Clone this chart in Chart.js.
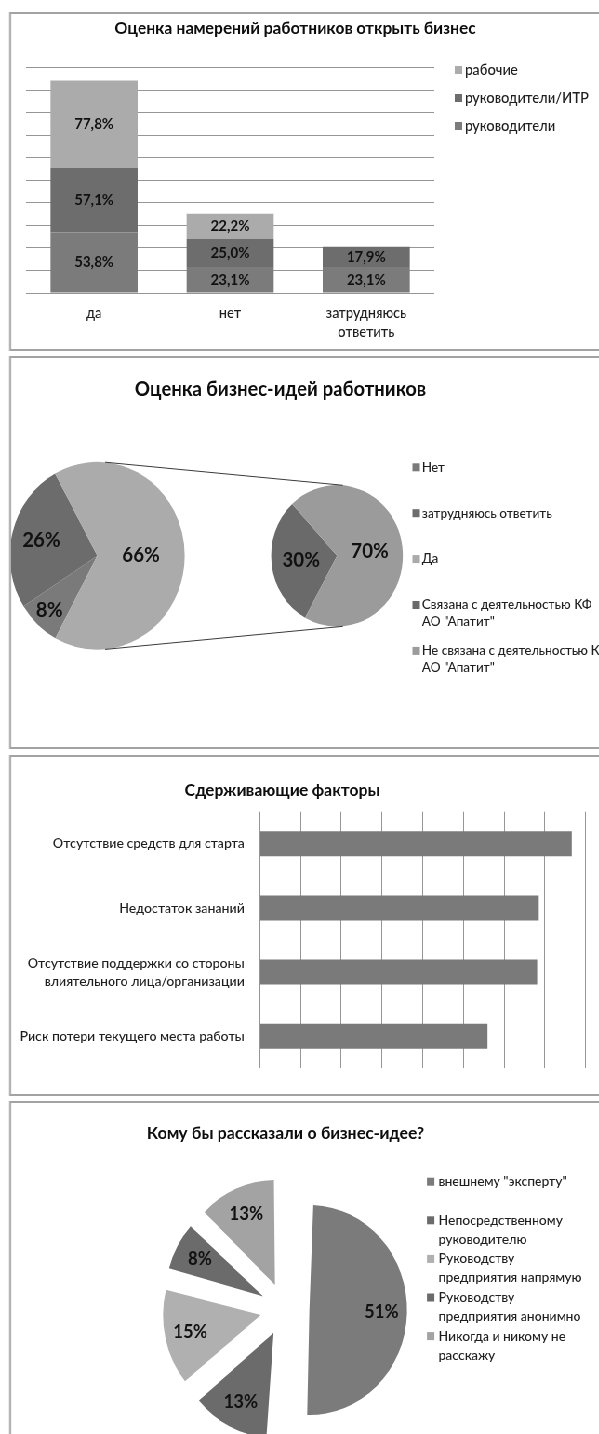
<!DOCTYPE html>
<html lang="ru">
<head>
<meta charset="utf-8">
<title>Бизнес-идеи работников</title>
<script src="https://cdn.jsdelivr.net/npm/chart.js@4.4.1/dist/chart.umd.min.js"></script>
<style>
  html, body { margin: 0; padding: 0; background: #fff; overflow: hidden; }
  body { width: 599px; height: 1434px; position: relative; }
  /* the scanned original is squeezed horizontally, so is the page */
  #page { position: absolute; left: 0; top: 0; width: 644px; height: 1434px;
          transform: scaleX(0.93); transform-origin: 0 0; }
  .panel { position: absolute; left: 10px; width: 660px; box-sizing: border-box;
           border: 2px solid #a3a3a3; background: #fff; }
  .panel canvas { position: absolute; left: 0; top: 0; }
</style>
</head>
<body>
<div id="page">
  <div class="panel" style="top:12px;height:339px">
    <canvas id="intentChart" width="646" height="335"></canvas>
  </div>
  <div class="panel" style="top:356px;height:393px">
    <canvas id="ideaChart" width="646" height="389"></canvas>
    <canvas id="ideaLinkChart" width="646" height="389"></canvas>
  </div>
  <div class="panel" style="top:755px;height:341px">
    <canvas id="barrierChart" width="646" height="337"></canvas>
  </div>
  <div class="panel" style="top:1101px;height:400px">
    <canvas id="tellChart" width="646" height="396"></canvas>
  </div>
</div>
<script>
// Оценка намерений работников открыть бизнес
const intentCategories = ['да', 'нет', ['затрудняюсь', 'ответить']];
const intentSeries = ['руководители', 'руководители/ИТР', 'рабочие'];
const intentManagers = [53.8, 23.1, 23.1];
const intentManagersItr = [57.1, 25.0, 17.9];
const intentWorkers = [77.8, 22.2, null];

// Оценка бизнес-идей работников
const ideaLabels = ['Нет', 'затрудняюсь ответить', 'Да'];
const ideaValues = [8, 26, 66];
const ideaLinkLabels = [['Связана с деятельностью КФ', 'АО "Апатит"'], ['Не связана с деятельностью КФ', 'АО "Апатит"']];
const ideaLinkValues = [30, 70];

// Сдерживающие факторы
const barrierLabels = [
  'Отсутствие средств для старта',
  'Недостаток зананий',
  ['Отсутствие поддержки со стороны', 'влиятельного лица/организации'],
  'Риск потери текущего места работы'
];
const barrierValues = [76.6, 68.5, 68.1, 55.9];

// Кому бы рассказали о бизнес-идее?
const tellLabels = [
  'внешнему "эксперту"',
  ['Непосредственному', 'руководителю'],
  ['Руководству', 'предприятия напрямую'],
  ['Руководству', 'предприятия анонимно'],
  ['Никогда и никому не', 'расскажу']
];
const tellValues = [51, 13, 15, 8, 13];

const FONT = 'Lato, "Open Sans", sans-serif';
Chart.defaults.font.family = FONT;
Chart.defaults.font.weight = 500;
Chart.defaults.color = '#1f1f1f';

function pct1(v) { return v.toFixed(1).replace('.', ',') + '%'; }
function pct0(v) { return v + '%'; }

// v4 arcs move by offset/4 and also grow a bit; work out both
function arcShift(el) {
  const shift = (el.options.offset || 0) / 4;
  const fix = 1 - Math.sin(Math.min(Math.PI, el.circumference || 0));
  return { shift: shift, grow: shift * fix };
}

// title and legend placed the way Excel had them
function decor(cfg) {
  return {
    id: 'decor',
    afterDraw(chart) {
      const ctx = chart.ctx;
      ctx.save();
      ctx.textBaseline = 'middle';
      if (cfg.title) {
        ctx.font = 'bold ' + cfg.title.size + 'px ' + FONT;
        ctx.fillStyle = '#0d0d0d';
        ctx.textAlign = 'center';
        ctx.fillText(cfg.title.text, cfg.title.x, cfg.title.y);
      }
      if (cfg.legend) {
        const lg = cfg.legend;
        ctx.font = '500 ' + lg.size + 'px ' + FONT;
        ctx.textAlign = 'left';
        lg.items.forEach((item, i) => {
          const y = lg.y + i * lg.step;
          ctx.fillStyle = item.color;
          ctx.fillRect(lg.x, y - lg.box / 2, lg.box, lg.box);
          ctx.fillStyle = '#1f1f1f';
          const lines = Array.isArray(item.text) ? item.text : [item.text];
          lines.forEach((line, j) => ctx.fillText(line, lg.x + lg.gap, y + j * lg.lineHeight));
        });
      }
      ctx.restore();
    }
  };
}

// percentage labels on bars and slices
function valueLabels(cfg) {
  return {
    id: 'valueLabels',
    afterDatasetsDraw(chart) {
      const ctx = chart.ctx;
      ctx.save();
      ctx.font = 'bold ' + cfg.size + 'px ' + FONT;
      ctx.fillStyle = '#111';
      ctx.textAlign = 'center';
      ctx.textBaseline = 'middle';
      chart.data.datasets.forEach((ds, di) => {
        chart.getDatasetMeta(di).data.forEach((el, i) => {
          const v = ds.data[i];
          if (v == null) return;
          let x, y;
          if (el instanceof Chart.ArcElement) {
            const mid = (el.startAngle + el.endAngle) / 2;
            const s = arcShift(el);
            const k = Array.isArray(cfg.radial) ? cfg.radial[i] : cfg.radial;
            const d = s.shift + k * (el.outerRadius + s.grow);
            x = el.x + Math.cos(mid) * d;
            y = el.y + Math.sin(mid) * d;
          } else {
            const c = el.getCenterPoint();
            x = c.x; y = c.y;
          }
          ctx.fillText(cfg.format(v), x, y);
        });
      });
      ctx.restore();
    }
  };
}

// exploded slices keep one radius
const evenExplode = {
  id: 'evenExplode',
  afterDatasetsUpdate(chart) {
    chart.getDatasetMeta(0).data.forEach(el => {
      el.outerRadius -= arcShift(el).grow;
    });
  }
};

// lines joining the two pies (outer tangents)
const pieConnector = {
  id: 'pieConnector',
  afterDatasetsDraw(chart) {
    const src = Chart.getChart('ideaChart');
    if (!src) return;
    const a = src.getDatasetMeta(0).data[0];
    const b = chart.getDatasetMeta(0).data[0];
    const r1 = a.outerRadius, r2 = b.outerRadius;
    const phi = Math.asin((r1 - r2) / (b.x - a.x));
    const ctx = chart.ctx;
    ctx.save();
    ctx.strokeStyle = '#3a3a3a';
    ctx.lineWidth = 1;
    [-1, 1].forEach(sgn => {
      const nx = Math.sin(phi), ny = sgn * Math.cos(phi);
      ctx.beginPath();
      ctx.moveTo(a.x + nx * r1, a.y + ny * r1);
      ctx.lineTo(b.x + nx * r2, b.y + ny * r2);
      ctx.stroke();
    });
    ctx.restore();
  }
};

const base = {
  responsive: false,
  animation: false,
  events: [],
  plugins: { legend: { display: false }, tooltip: { enabled: false } }
};

// 1. stacked columns
const intentColors = ['#7b7b7b', '#6d6d6d', '#ababab'];
new Chart(document.getElementById('intentChart'), {
  type: 'bar',
  data: {
    labels: intentCategories,
    datasets: [
      { label: intentSeries[0], data: intentManagers, backgroundColor: intentColors[0] },
      { label: intentSeries[1], data: intentManagersItr, backgroundColor: intentColors[1] },
      { label: intentSeries[2], data: intentWorkers, backgroundColor: intentColors[2] }
    ]
  },
  options: Object.assign({}, base, {
    layout: { padding: { left: 16, right: 191, top: 53.7, bottom: 6 } },
    datasets: { bar: { barPercentage: 0.64, categoryPercentage: 1, borderWidth: 0 } },
    scales: {
      x: {
        stacked: true,
        grid: { display: false, drawTicks: false },
        border: { display: false },
        ticks: { font: { size: 14.7, lineHeight: 1.3 }, padding: 10.5, maxRotation: 0, autoSkip: false },
        afterFit: s => { s.height = 50; }
      },
      y: {
        stacked: true, min: 0, max: 200,
        ticks: { display: false, stepSize: 20 },
        grid: { color: '#969696', drawTicks: false },
        border: { display: false },
        afterFit: s => { s.width = 0; }
      }
    }
  }),
  plugins: [
    valueLabels({ size: 15, format: pct1 }),
    decor({
      title: { text: 'Оценка намерений работников открыть бизнес', x: 305.5, y: 14.5, size: 17.4 },
      legend: {
        x: 477, y: 56, step: 28, lineHeight: 19, box: 8, gap: 11, size: 14.8,
        items: [2, 1, 0].map(i => ({ text: intentSeries[i], color: intentColors[i] }))
      }
    })
  ]
});

// 2. pie with a second pie
const ideaColors = ['#7a7a7a', '#6c6c6c', '#ababab'];
const ideaLinkColors = ['#6a6a6a', '#9b9b9b'];
new Chart(document.getElementById('ideaChart'), {
  type: 'pie',
  data: {
    labels: ideaLabels,
    datasets: [{ data: ideaValues, backgroundColor: ideaColors, borderWidth: 0, radius: 94, clip: false }]
  },
  options: Object.assign({}, base, {
    rotation: 208.7,
    layout: { padding: { left: 0, top: 105.2, right: 460.8, bottom: 98.6 } }
  }),
  plugins: [
    valueLabels({ size: 20.5, format: pct0, radial: [0.8, 0.66, 0.5] }),
    decor({
      title: { text: 'Оценка бизнес-идей работников', x: 289.5, y: 31.3, size: 20.3 },
      legend: {
        x: 431.5, y: 109.3, step: 45.9, lineHeight: 16.7, box: 8, gap: 10.3, size: 13.6,
        items: ideaLabels.map((t, i) => ({ text: t, color: ideaColors[i] }))
          .concat(ideaLinkLabels.map((t, i) => ({ text: t, color: ideaLinkColors[i] })))
      }
    })
  ]
});

new Chart(document.getElementById('ideaLinkChart'), {
  type: 'pie',
  data: {
    labels: ideaLinkLabels,
    datasets: [{ data: ideaLinkValues, backgroundColor: ideaLinkColors, borderWidth: 0, radius: 70.8, clip: false }]
  },
  options: Object.assign({}, base, {
    rotation: 209,
    layout: { padding: { left: 280.4, top: 127.8, right: 225.6, bottom: 121.2 } }
  }),
  plugins: [pieConnector, valueLabels({ size: 20.5, format: pct0, radial: [0.55, 0.5] })]
});

// 3. horizontal bars
new Chart(document.getElementById('barrierChart'), {
  type: 'bar',
  data: {
    labels: barrierLabels,
    datasets: [{ data: barrierValues, backgroundColor: '#7a7a7a' }]
  },
  options: Object.assign({}, base, {
    indexAxis: 'y',
    layout: { padding: { left: 7.4, right: 28.3, top: 54.7, bottom: 15.7 } },
    datasets: { bar: { barPercentage: 0.39, categoryPercentage: 1, borderWidth: 0 } },
    scales: {
      x: {
        min: 0, max: 80,
        ticks: { display: false, stepSize: 10 },
        grid: { color: '#969696', drawTicks: false },
        border: { display: false },
        afterFit: s => { s.height = 0; }
      },
      y: {
        grid: { display: false, drawTicks: false },
        border: { display: false },
        ticks: { font: { size: 14.2, lineHeight: 1.29 }, padding: 16.5, autoSkip: false },
        afterFit: s => { s.width = 260; }
      }
    }
  }),
  plugins: [
    decor({ title: { text: 'Сдерживающие факторы', x: 291.5, y: 33, size: 17.5 } })
  ]
});

// 4. exploded pie
const tellColors = ['#7b7b7b', '#6b6b6b', '#b0b0b0', '#6b6b6b', '#a3a3a3'];
new Chart(document.getElementById('tellChart'), {
  type: 'pie',
  data: {
    labels: tellLabels,
    datasets: [{ data: tellValues, backgroundColor: tellColors, borderWidth: 0, radius: 105, offset: 106, clip: false }]
  },
  options: Object.assign({}, base, {
    layout: { padding: { left: 194.2, top: 106.2, right: 251.8, bottom: 89.8 } }
  }),
  plugins: [
    evenExplode,
    valueLabels({ size: 18.5, format: pct0, radial: 0.74 }),
    decor({
      title: { text: 'Кому бы рассказали о бизнес-идее?', x: 295, y: 30, size: 17.7 },
      legend: {
        x: 447.1, y: 78.7, step: 38.6, lineHeight: 19, box: 8, gap: 12.4, size: 14,
        items: tellLabels.map((t, i) => ({ text: t, color: tellColors[i] }))
      }
    })
  ]
});
</script>
</body>
</html>
